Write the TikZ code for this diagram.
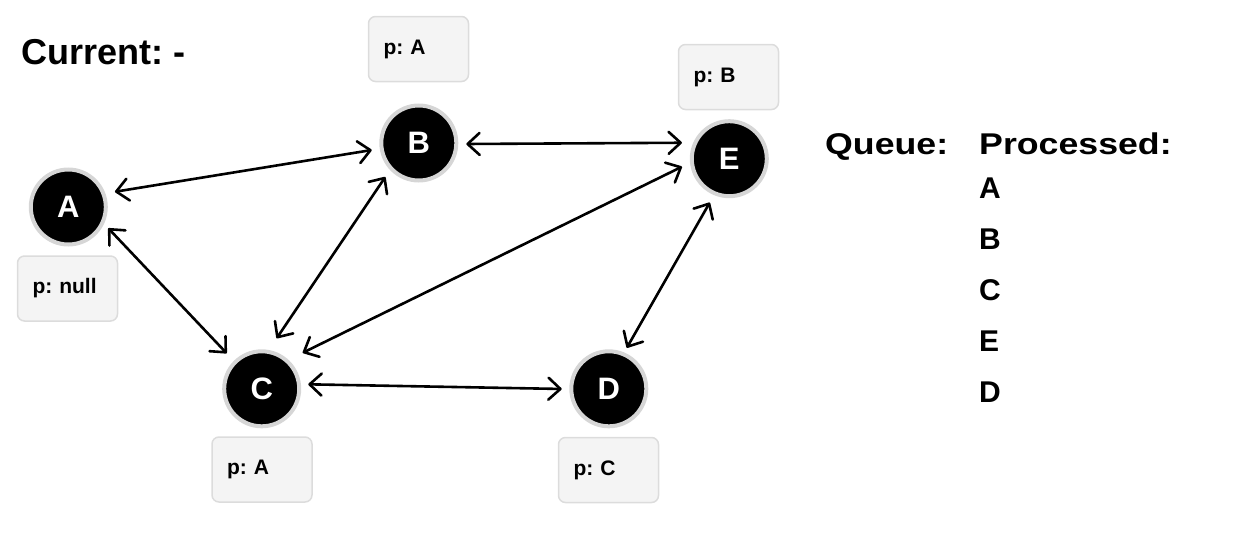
\documentclass[tikz,border=0pt]{standalone}
\usepackage{fontspec}
\setmainfont{Liberation Sans}
\newfontfamily\widefont[FakeStretch=1.19]{Liberation Sans}
\usetikzlibrary{arrows.meta}
\definecolor{ringgray}{HTML}{D6D6D6}
\definecolor{boxfill}{HTML}{F4F4F4}
\definecolor{boxline}{HTML}{DCDCDC}
\frenchspacing
\begin{document}
\frenchspacing
\begin{tikzpicture}[x=1pt,y=-1pt,
  vertex/.style={circle, fill=black, draw=ringgray, line width=4pt, minimum size=75pt, inner sep=0pt, text=white, font=\bfseries\fontsize{31}{31}\selectfont},
  pbox/.style={rounded corners=7pt, fill=boxfill, draw=boxline, line width=1.5pt, minimum height=65pt, text width=70pt, inner xsep=15pt, inner ysep=0pt, align=left, font=\frenchspacing\bfseries\fontsize{21}{24}\selectfont},
  edge/.style={line width=2.6pt, {Straight Barb[length=12pt,width=22pt,round]}-{Straight Barb[length=12pt,width=22pt,round]}},
  title/.style={anchor=base west, inner sep=0pt, font=\frenchspacing\bfseries\fontsize{36}{40}\selectfont},
  head/.style={anchor=base west, inner sep=0pt, font=\widefont\bfseries\fontsize{30}{34}\selectfont},
  item/.style={anchor=base west, inner sep=0pt, font=\bfseries\fontsize{30}{34}\selectfont}
]
\useasboundingbox (0,0) rectangle (1245,554);

% nodes
\node[vertex] (A) at (68.3,207) {A};
\node[vertex] (B) at (418.8,143) {B};
\node[vertex] (C) at (261.7,388.8) {C};
\node[vertex] (D) at (608.8,388.8) {D};
\node[vertex] (E) at (729.3,158.7) {E};

% parent boxes
\node[pbox] (pB) at (418.5,49) {p: A};
\node[pbox] (pE) at (728.5,77) {p: B};
\node[pbox] (pA) at (67.5,288.5) {p: null};
\node[pbox] (pC) at (262,469.5) {p: A};
\node[pbox] (pD) at (608.5,470) {p: C};

% edges
\draw[edge] ([shift={(18.1:49.1pt)}]A.center) -- ([shift={(188.5:47.6pt)}]B.center);
\draw[edge] ([shift={(-28:45.3pt)}]A.center) -- ([shift={(134.6:49.9pt)}]C.center);
\draw[edge] ([shift={(225.4:47.7pt)}]B.center) -- ([shift={(73.5:52.7pt)}]C.center);
\draw[edge] ([shift={(-1.2:47.5pt)}]B.center) -- ([shift={(161.4:50pt)}]E.center);
\draw[edge] ([shift={(41.3:54.6pt)}]C.center) -- ([shift={(189.6:48pt)}]E.center);
\draw[edge] ([shift={(5.5:46.8pt)}]C.center) -- ([shift={(180.2:47.1pt)}]D.center);
\draw[edge] ([shift={(66.3:44.8pt)}]D.center) -- ([shift={(246:48pt)}]E.center);

% texts
\node[title] (cur) at (21,64.5) {Current: -};
\node[head] (queue) at (825,154) {Queue:};
\node[head] (proc) at (979,154) {Processed:};
\node[item] (l1) at (979,198) {A};
\node[item] (l2) at (979,249) {B};
\node[item] (l3) at (979,300) {C};
\node[item] (l4) at (979,351) {E};
\node[item] (l5) at (979,402) {D};
\end{tikzpicture}
\end{document}
